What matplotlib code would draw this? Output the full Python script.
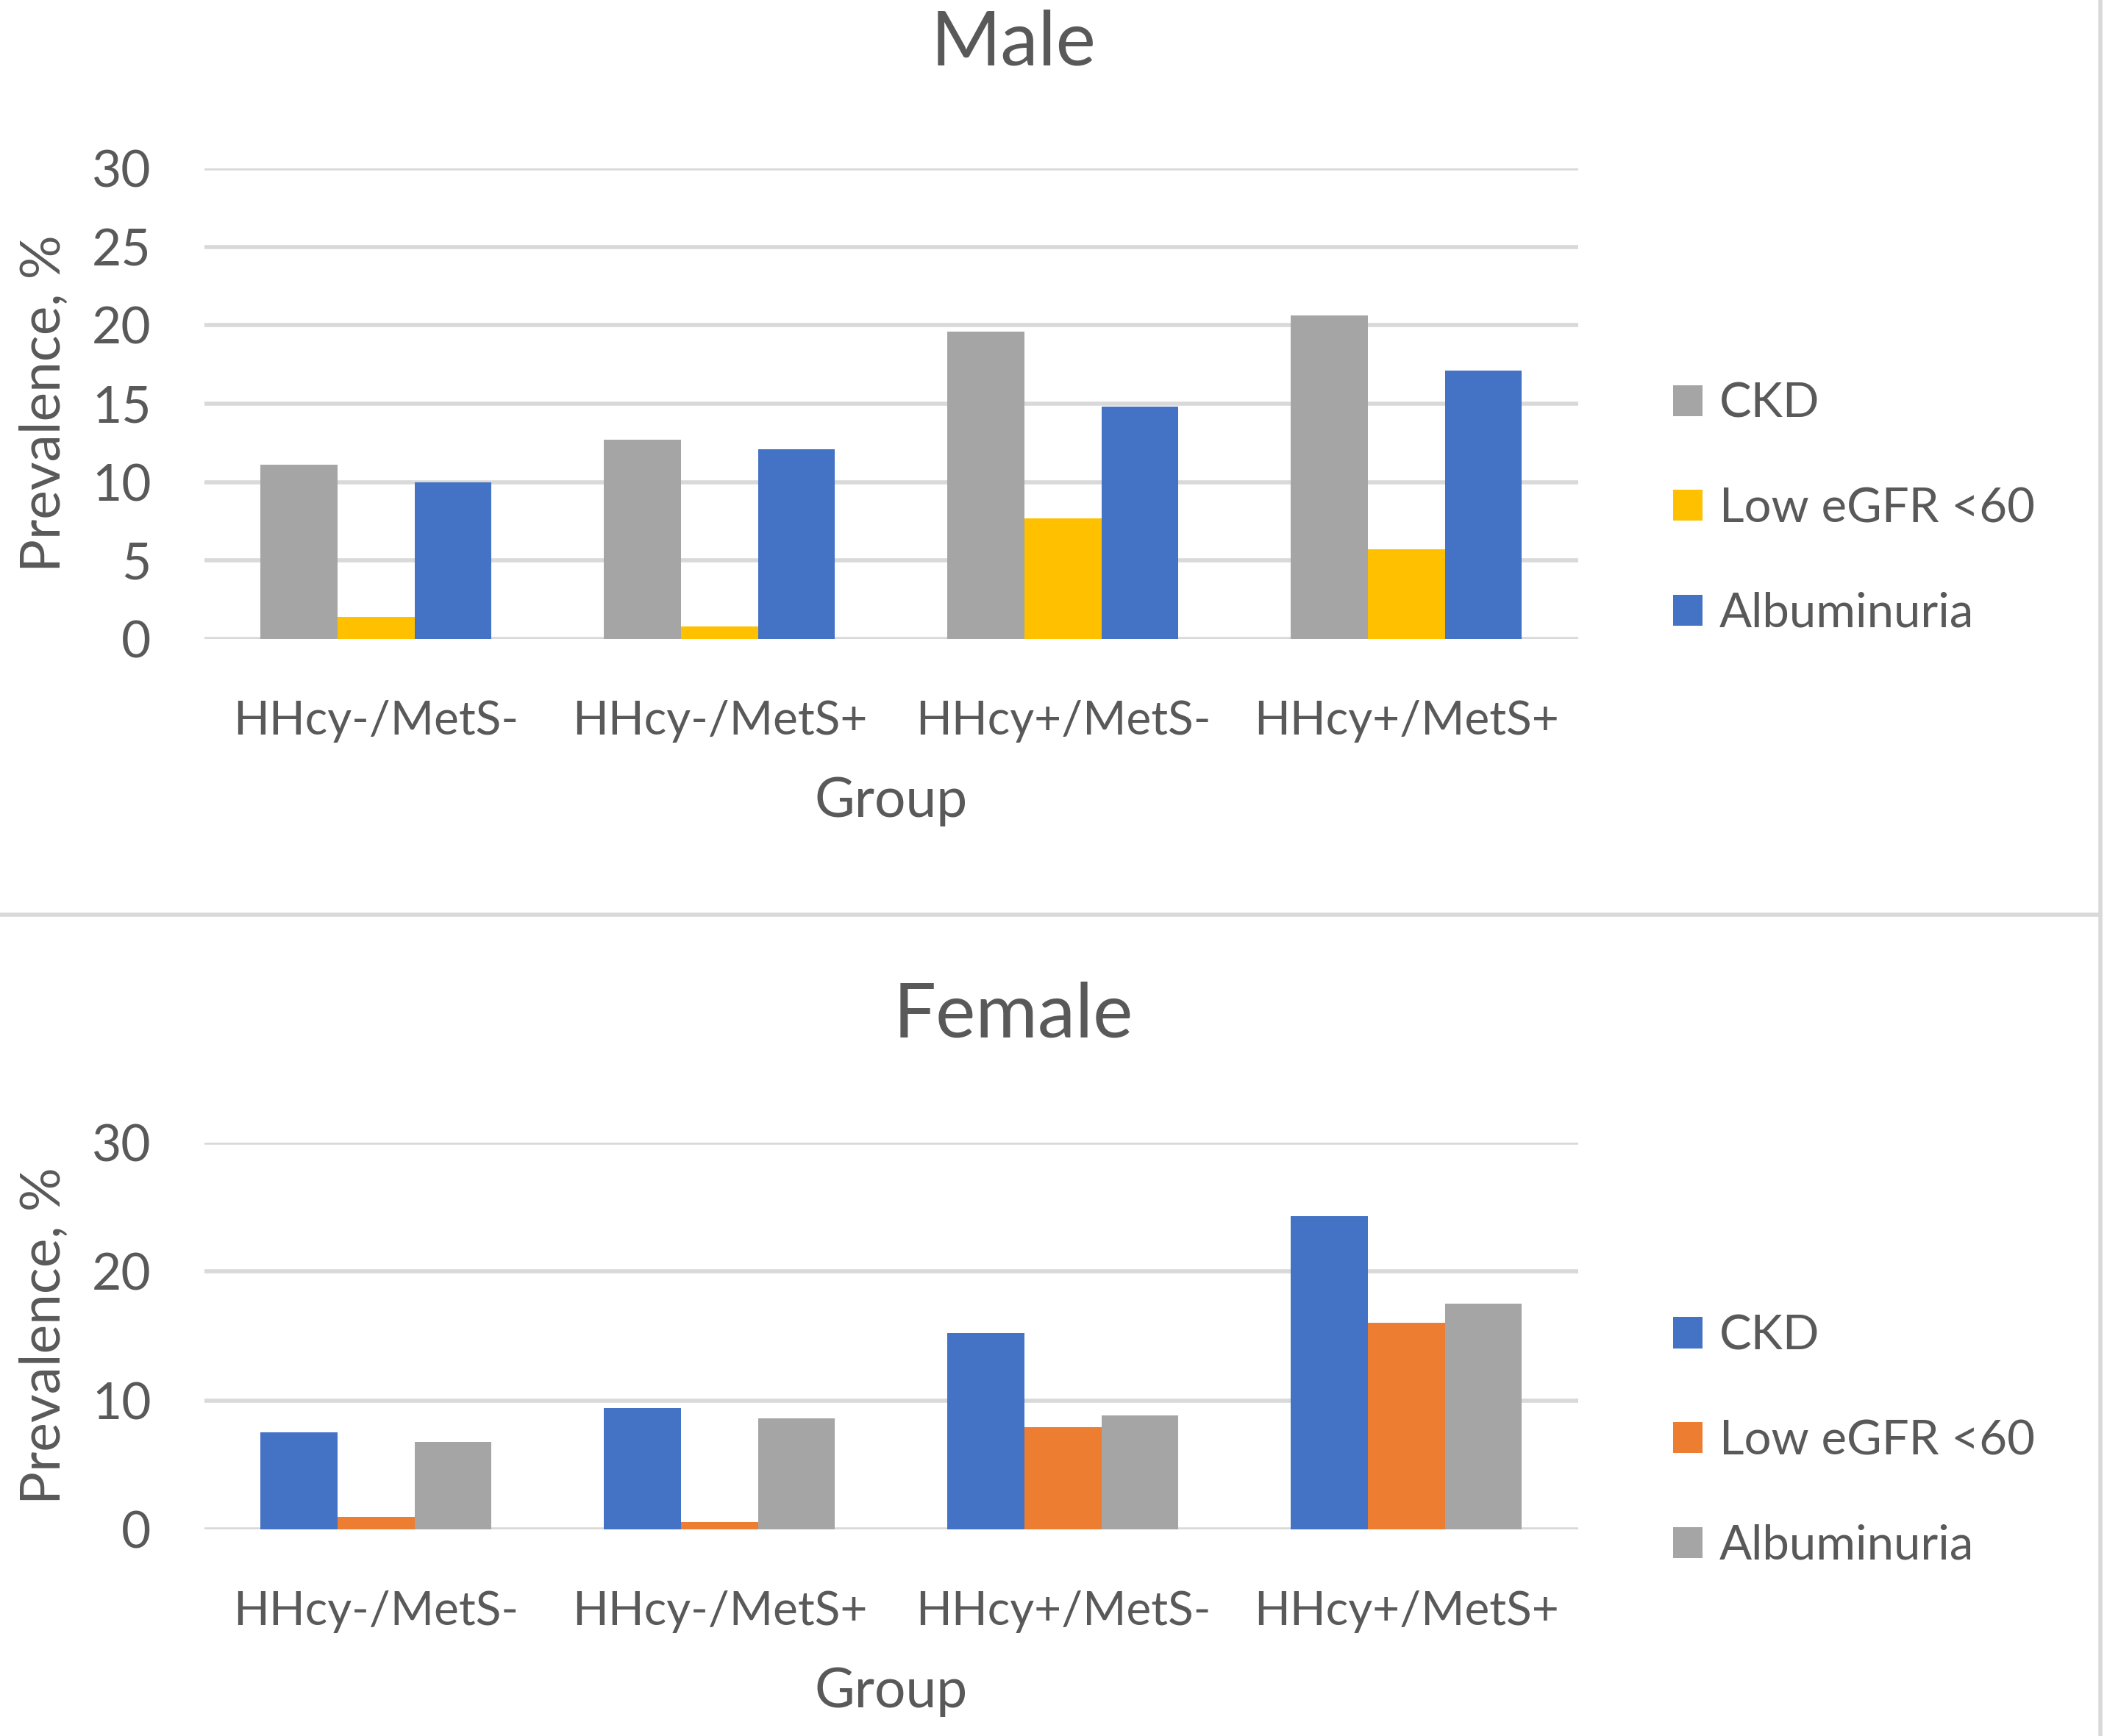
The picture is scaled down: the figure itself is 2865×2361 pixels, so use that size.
import numpy as np
import matplotlib.pyplot as plt
from matplotlib.lines import Line2D

plt.rcParams['font.family'] = ['Lato', 'DejaVu Sans']

groups = ['HHcy-/MetS-', 'HHcy-/MetS+', 'HHcy+/MetS-', 'HHcy+/MetS+']
series = ['CKD', 'Low eGFR <60', 'Albuminuria']

male_ckd = [11.1, 12.7, 19.6, 20.6]
male_low = [1.4, 0.8, 7.7, 5.7]
male_alb = [10.0, 12.1, 14.8, 17.1]

female_ckd = [7.5, 9.4, 15.2, 24.3]
female_low = [0.95, 0.6, 7.9, 16.0]
female_alb = [6.8, 8.6, 8.85, 17.5]

male_colors = ['#a5a5a5', '#ffc000', '#4472c4']
female_colors = ['#4472c4', '#ed7d31', '#a5a5a5']

txt = '#595959'
grid = '#d9d9d9'

fig = plt.figure(figsize=(28.65, 23.61), dpi=100)
fig.patch.set_facecolor('white')


def panel(rect, values, colors, yticks, title, title_y, legend_y):
    ax = fig.add_axes(rect)
    x = np.arange(len(groups))
    w = 0.224
    for i, (vals, c, name) in enumerate(zip(values, colors, series)):
        ax.bar(x + (i - 1) * w, vals, w, color=c, label=name, zorder=3)
    ax.set_xlim(-0.5, len(groups) - 0.5)
    ax.set_ylim(0, yticks[-1])
    ax.set_yticks(yticks)
    ax.set_xticks(x)
    ax.set_xticklabels(groups)
    ax.yaxis.grid(True, color=grid, linewidth=4, zorder=0)
    ax.set_axisbelow(True)
    for s in ax.spines.values():
        s.set_visible(False)
    ax.tick_params(axis='both', length=0, labelsize=46, colors=txt)
    ax.tick_params(axis='y', labelsize=50, pad=52)
    ax.tick_params(axis='x', pad=60)
    ax.set_xlabel('Group', fontsize=54, color=txt, labelpad=32)
    ax.set_ylabel('Prevalence, %', fontsize=54, color=txt, labelpad=22)
    fig.text(0.481, title_y, title, fontsize=74, color=txt, ha='center', va='center')
    fig.legend(loc='center left', bbox_to_anchor=(0.7735, legend_y),
               frameon=False, fontsize=47, handlelength=0.62,
               handleheight=0.62, handletextpad=0.35, labelspacing=1.28,
               labelcolor=txt,
               handles=ax.get_legend_handles_labels()[0])
    return ax


panel([0.097, 0.632, 0.652, 0.271],
      [male_ckd, male_low, male_alb], male_colors,
      [0, 5, 10, 15, 20, 25, 30], 'Male', 0.975, 0.707)
panel([0.097, 0.119, 0.652, 0.223],
      [female_ckd, female_low, female_alb], female_colors,
      [0, 10, 20, 30], 'Female', 0.415, 0.170)

# panel borders
fig.add_artist(Line2D([0, 0.997], [0.473, 0.473], color='#d9d9d9', linewidth=4,
                      transform=fig.transFigure))
fig.add_artist(Line2D([0.997, 0.997], [0, 1], color='#d9d9d9', linewidth=4,
                      transform=fig.transFigure))

fig.savefig('out.png', dpi=100)
